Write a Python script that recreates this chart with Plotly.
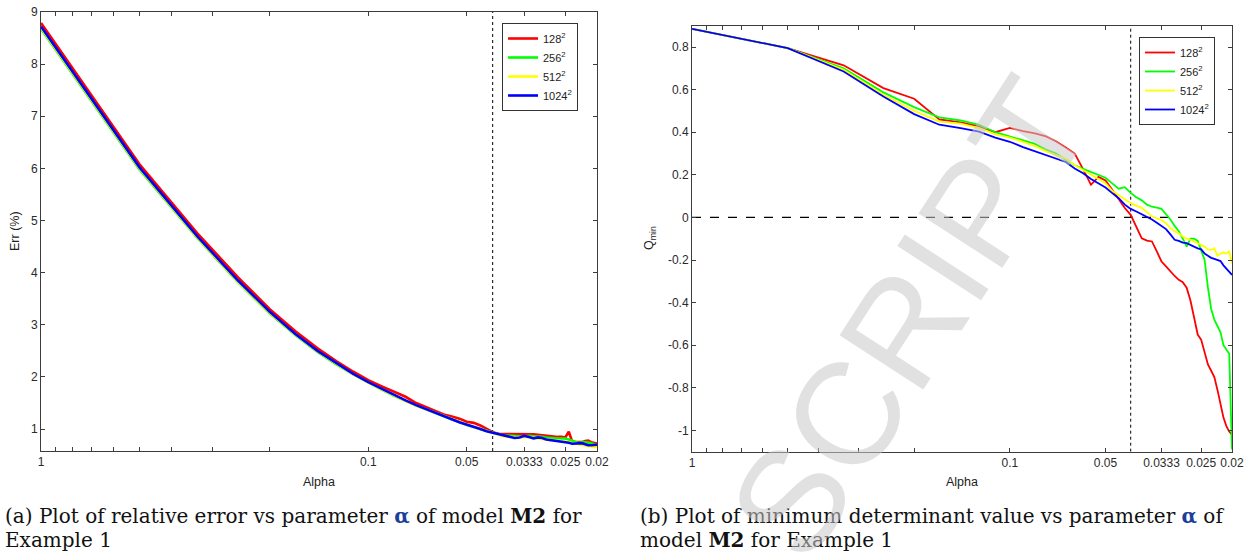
import plotly.graph_objects as go

# ---------------- data ----------------
denominators = list(range(1, 51))            # alpha = 1/n
alpha = [1.0 / n for n in denominators]

series_names = ["128<sup>2</sup>", "256<sup>2</sup>", "512<sup>2</sup>", "1024<sup>2</sup>"]
series_colors = ["#ff0000", "#00ff00", "#ffff00", "#0000ff"]

# (a) relative error Err (%)
err_128 = [8.79, 6.08, 4.76, 3.91, 3.30, 2.87, 2.55, 2.30, 2.10, 1.94,
           1.82, 1.71, 1.62, 1.50, 1.42, 1.35, 1.28, 1.24, 1.20, 1.14,
           1.12, 1.07, 1.00, 0.94, 0.91, 0.91, 0.90, 0.91, 0.91, 0.90,
           0.91, 0.90, 0.89, 0.88, 0.88, 0.87, 0.86, 0.85, 0.85, 0.84,
           0.95, 0.76, 0.75, 0.75, 0.75, 0.77, 0.78, 0.75, 0.73, 0.72]
err_256 = [8.68, 5.98, 4.67, 3.82, 3.22, 2.80, 2.48, 2.24, 2.05, 1.89,
           1.76, 1.64, 1.54, 1.45, 1.38, 1.31, 1.25, 1.19, 1.13, 1.08,
           1.04, 1.00, 0.96, 0.93, 0.90, 0.88, 0.87, 0.87, 0.86, 0.86,
           0.87, 0.86, 0.86, 0.85, 0.84, 0.83, 0.82, 0.82, 0.82, 0.82,
           0.80, 0.78, 0.75, 0.73, 0.75, 0.75, 0.74, 0.73, 0.71, 0.69]
err_512 = [8.70, 6.00, 4.68, 3.83, 3.23, 2.81, 2.49, 2.25, 2.05, 1.89,
           1.76, 1.64, 1.54, 1.45, 1.38, 1.31, 1.25, 1.19, 1.13, 1.08,
           1.04, 1.00, 0.96, 0.93, 0.89, 0.86, 0.85, 0.84, 0.84, 0.85,
           0.84, 0.83, 0.83, 0.82, 0.81, 0.80, 0.79, 0.78, 0.77, 0.76,
           0.75, 0.73, 0.72, 0.71, 0.70, 0.68, 0.67, 0.67, 0.66, 0.66]
err_1024 = [8.72, 6.02, 4.70, 3.85, 3.25, 2.82, 2.50, 2.26, 2.06, 1.90,
            1.77, 1.65, 1.55, 1.46, 1.39, 1.31, 1.25, 1.19, 1.13, 1.08,
            1.04, 1.00, 0.96, 0.93, 0.90, 0.87, 0.85, 0.83, 0.84, 0.87,
            0.85, 0.82, 0.84, 0.83, 0.80, 0.79, 0.78, 0.77, 0.76, 0.75,
            0.74, 0.72, 0.72, 0.73, 0.73, 0.71, 0.69, 0.69, 0.69, 0.70]

# (b) minimum determinant value Q_min
q_128 = [0.885, 0.795, 0.714, 0.607, 0.557, 0.46, 0.446, 0.427, 0.40, 0.42,
         0.405, 0.395, 0.38, 0.356, 0.328, 0.30, 0.227, 0.153, 0.19, 0.173,
         0.13, 0.083, 0.044, 0.012, -0.043, -0.098, -0.109, -0.113, -0.16, -0.207,
         -0.23, -0.254, -0.275, -0.293, -0.304, -0.33, -0.39, -0.47, -0.55, -0.575,
         -0.63, -0.69, -0.72, -0.75, -0.81, -0.87, -0.94, -0.98, -1.005, -1.02]
q_256 = [0.885, 0.795, 0.70, 0.587, 0.518, 0.47, 0.455, 0.435, 0.40, 0.38,
         0.36, 0.345, 0.318, 0.30, 0.27, 0.245, 0.228, 0.213, 0.20, 0.186,
         0.16, 0.135, 0.142, 0.115, 0.095, 0.08, 0.06, 0.05, 0.046, 0.04,
         0.015, -0.01, -0.04, -0.065, -0.10, -0.137, -0.10, -0.10, -0.11, -0.155,
         -0.20, -0.33, -0.43, -0.48, -0.51, -0.54, -0.60, -0.62, -0.64, -1.09]
q_512 = [0.885, 0.795, 0.693, 0.576, 0.50, 0.45, 0.44, 0.419, 0.39, 0.375,
         0.355, 0.335, 0.31, 0.29, 0.275, 0.245, 0.22, 0.20, 0.18, 0.16,
         0.125, 0.105, 0.085, 0.067, 0.055, 0.045, 0.025, 0.005, -0.005, -0.012,
         -0.027, -0.05, -0.065, -0.075, -0.09, -0.10, -0.105, -0.113, -0.12, -0.13,
         -0.137, -0.15, -0.152, -0.145, -0.18, -0.17, -0.165, -0.17, -0.16, -0.215]
q_1024 = [0.885, 0.795, 0.685, 0.568, 0.485, 0.435, 0.419, 0.403, 0.375, 0.355,
          0.33, 0.31, 0.295, 0.275, 0.26, 0.23, 0.207, 0.18, 0.16, 0.14,
          0.114, 0.09, 0.06, 0.04, 0.028, 0.015, 0.005, -0.01, -0.025, -0.04,
          -0.055, -0.08, -0.105, -0.11, -0.118, -0.121, -0.13, -0.14, -0.145, -0.15,
          -0.17, -0.18, -0.19, -0.195, -0.2, -0.205, -0.225, -0.24, -0.255, -0.27]

threshold_alpha = 1.0 / 24

x_tickvals = [1, 0.9, 0.8, 0.7, 0.6, 0.5, 0.4, 0.3, 0.2, 0.1, 0.05, 1 / 30, 0.025, 0.02]
x_ticktext = ["1", "", "", "", "", "", "", "", "", "0.1", "0.05", "0.0333", "0.025", "0.02"]
err_ticks = [1, 2, 3, 4, 5, 6, 7, 8, 9]
q_tickvals = [0.8, 0.6, 0.4, 0.2, 0, -0.2, -0.4, -0.6, -0.8, -1]
q_ticktext = ["0.8", "0.6", "0.4", "0.2", "0", "-0.2", "-0.4", "-0.6", "-0.8", "-1"]

err_range = [0.58, 9.0]
q_range = [-1.1, 0.9]

caption_a = ["(a) Plot of relative error vs parameter {a} of model <b>M2</b> for", "Example 1"]
caption_b = ["(b) Plot of minimum determinant value vs parameter {a} of", "model <b>M2</b> for Example 1"]

# ---------------- figure ----------------
W, H = 1259, 556
fig = go.Figure()

def px(x):
    return x / W

def py(y):
    return 1 - y / H

# reference lines
fig.add_trace(go.Scatter(x=[threshold_alpha, threshold_alpha], y=err_range, mode="lines",
                         line=dict(color="black", width=1, dash="dot"),
                         showlegend=False, hoverinfo="skip", xaxis="x", yaxis="y"))
fig.add_trace(go.Scatter(x=[threshold_alpha, threshold_alpha], y=q_range, mode="lines",
                         line=dict(color="black", width=1, dash="dot"),
                         showlegend=False, hoverinfo="skip", xaxis="x2", yaxis="y2"))
fig.add_trace(go.Scatter(x=[1, 0.02], y=[0, 0], mode="lines",
                         line=dict(color="black", width=1.2, dash="dash"),
                         showlegend=False, hoverinfo="skip", xaxis="x2", yaxis="y2"))

for name, col, vals in zip(series_names, series_colors, [err_128, err_256, err_512, err_1024]):
    fig.add_trace(go.Scatter(x=alpha, y=vals, mode="lines", name=name,
                             line=dict(color=col, width=2.6),
                             xaxis="x", yaxis="y", legend="legend"))

for name, col, vals in zip(series_names, series_colors, [q_128, q_256, q_512, q_1024]):
    fig.add_trace(go.Scatter(x=alpha, y=vals, mode="lines", name=name,
                             line=dict(color=col, width=1.8),
                             xaxis="x2", yaxis="y2", legend="legend2"))

axis_common = dict(showline=True, linecolor="#3c3c3c", linewidth=1, mirror="ticks",
                   ticks="inside", ticklen=4, tickcolor="#3c3c3c", showgrid=False,
                   zeroline=False, automargin=False,
                   tickfont=dict(family="Liberation Sans", size=12, color="#2a2a2a"))

leg_common = dict(xanchor="left", yanchor="top", bgcolor="white",
                  bordercolor="#333333", borderwidth=1,
                  font=dict(family="Liberation Sans", size=11, color="#222222"),
                  tracegroupgap=0, itemwidth=30)

fig.update_layout(
    width=W, height=H, autosize=False,
    margin=dict(l=0, r=0, t=0, b=0),
    paper_bgcolor="white", plot_bgcolor="white",
    xaxis=dict(type="log", range=[0, -1.69897], domain=[px(41), px(597)], anchor="y",
               tickvals=x_tickvals, ticktext=x_ticktext, **axis_common),
    yaxis=dict(range=err_range, domain=[py(451), py(12)], anchor="x",
               tickvals=err_ticks, **axis_common),
    xaxis2=dict(type="log", range=[0, -1.69897], domain=[px(692), px(1232)], anchor="y2",
                tickvals=x_tickvals, ticktext=x_ticktext, **axis_common),
    yaxis2=dict(range=q_range, domain=[py(451.7), py(25.7)], anchor="x2",
                tickvals=q_tickvals, ticktext=q_ticktext, **axis_common),
    legend=dict(x=px(502), y=py(23), **leg_common),
    legend2=dict(x=px(1139), y=py(37), **leg_common),
    showlegend=True,
)

lab_font = dict(family="Liberation Sans", size=12.5, color="#222222")
annotations = [
    dict(text="Err (%)", x=px(15), y=py(231), xref="paper", yref="paper",
         xanchor="center", yanchor="middle",
         showarrow=False, textangle=-90, font=lab_font),
    dict(text="Alpha", x=px(319), y=py(482), xref="paper", yref="paper",
         xanchor="center", yanchor="middle", showarrow=False, font=lab_font),
    dict(text="Q<sub>min</sub>", x=px(650), y=py(238), xref="paper", yref="paper",
         xanchor="center", yanchor="middle",
         showarrow=False, textangle=-90, font=lab_font),
    dict(text="Alpha", x=px(962), y=py(482), xref="paper", yref="paper",
         xanchor="center", yanchor="middle", showarrow=False, font=lab_font),
]

cap_font = dict(family="DejaVu Serif", size=20, color="#111111")
alpha_sym = '<span style="color:#1c3f9a"><b>α</b></span>'
for x0, lines in [(3, caption_a), (638, caption_b)]:
    for i, line in enumerate(lines):
        annotations.append(dict(
            text=line.format(a=alpha_sym), x=px(x0), y=py(516 + 24 * i),
            xref="paper", yref="paper", xanchor="left", yanchor="middle",
            align="left", showarrow=False, font=cap_font))

# watermark
annotations.append(dict(
    text="SCRIPT", x=px(910), y=py(318), xref="paper", yref="paper",
    xanchor="center", yanchor="middle",
    showarrow=False, textangle=-57,
    font=dict(family="Liberation Sans", size=145, color="rgba(200,200,200,0.55)")))

fig.update_layout(annotations=annotations)

fig.write_html("out.html", config={"displayModeBar": False},
               post_script="document.body.style.margin='0';")
